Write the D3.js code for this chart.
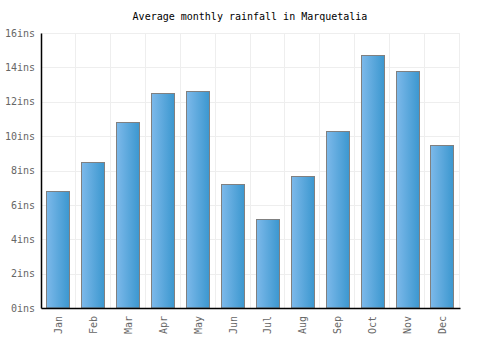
<!DOCTYPE html>
<html>
<head>
<meta charset="utf-8">
<script src="https://cdn.jsdelivr.net/npm/d3@7"></script>
<style>
  body { margin: 0; background: #fff; }
  text { font-family: "DejaVu Sans Mono", monospace; }
</style>
</head>
<body>
<div id="chart"></div>
<script>
const months = ["Jan", "Feb", "Mar", "Apr", "May", "Jun", "Jul", "Aug", "Sep", "Oct", "Nov", "Dec"];
const rainfall = [6.8, 8.5, 10.8, 12.5, 12.6, 7.2, 5.2, 7.7, 10.3, 14.7, 13.8, 9.5];
const yTicks = [0, 2, 4, 6, 8, 10, 12, 14, 16];

const margin = { top: 33, right: 40, bottom: 42, left: 41 },
      width = 500 - margin.left - margin.right,
      height = 350 - margin.top - margin.bottom;

const svg = d3.select("#chart")
    .append("svg")
    .attr("width", 500)
    .attr("height", 350);

// bar gradient
const grad = svg.append("defs").append("linearGradient")
    .attr("id", "barGrad")
    .attr("x1", "0%").attr("x2", "100%").attr("y1", "0%").attr("y2", "0%");
grad.append("stop").attr("offset", "0%").attr("stop-color", "#7db9ea");
grad.append("stop").attr("offset", "100%").attr("stop-color", "#3b97cf");

svg.append("text")
    .attr("x", 250)
    .attr("y", 20)
    .attr("text-anchor", "middle")
    .style("font-size", "10px")
    .attr("fill", "#000")
    .text("Average monthly rainfall in Marquetalia");

const g = svg.append("g")
    .attr("transform", "translate(" + margin.left + "," + margin.top + ")");

const x = d3.scaleBand()
    .domain(months)
    .range([0, width])
    .paddingInner(0.31)
    .paddingOuter(0.155);

const y = d3.scaleLinear()
    .domain([0, 16])
    .range([height, 0]);

// grid
const step = width / months.length;
g.append("g")
    .selectAll("line")
    .data(d3.range(1, months.length + 1))
    .enter().append("line")
    .attr("x1", d => Math.round(d * step) - 0.5)
    .attr("x2", d => Math.round(d * step) - 0.5)
    .attr("y1", 0)
    .attr("y2", height)
    .attr("stroke", "#eeeeee");

g.append("g")
    .selectAll("line")
    .data(yTicks.slice(1))
    .enter().append("line")
    .attr("x1", 0)
    .attr("x2", width)
    .attr("y1", d => Math.round(y(d)) + 0.5)
    .attr("y2", d => Math.round(y(d)) + 0.5)
    .attr("stroke", "#eeeeee");

// bars
g.selectAll("rect.bar")
    .data(rainfall)
    .enter().append("rect")
    .attr("class", "bar")
    .attr("x", (d, i) => Math.round(x(months[i])) + 0.5)
    .attr("y", d => Math.round(y(d)) + 0.5)
    .attr("width", Math.round(x.bandwidth()) - 1)
    .attr("height", d => height - Math.round(y(d)) - 0.5)
    .attr("fill", "url(#barGrad)")
    .attr("stroke", "#808080")
    .attr("stroke-width", 1);

// y axis
const yAxis = g.append("g")
    .call(d3.axisLeft(y).tickValues(yTicks).tickSize(0).tickPadding(6).tickFormat(d => d + "ins"));
yAxis.select(".domain").attr("stroke", "#000").attr("stroke-width", 1.5);
yAxis.selectAll("text").attr("fill", "#666").style("font-size", "10px")
    .style("font-family", "DejaVu Sans Mono, monospace");

// x axis
const xAxis = g.append("g")
    .attr("transform", "translate(0," + height + ")")
    .call(d3.axisBottom(x).tickSize(0).tickSizeOuter(0));
xAxis.select(".domain").attr("stroke", "#000").attr("stroke-width", 1.5);
xAxis.selectAll("text")
    .attr("fill", "#666")
    .style("font-size", "10px")
    .style("font-family", "DejaVu Sans Mono, monospace")
    .attr("transform", "rotate(-90)")
    .attr("text-anchor", "end")
    .attr("x", -8)
    .attr("y", 0)
    .attr("dy", "0.35em");
</script>
</body>
</html>
